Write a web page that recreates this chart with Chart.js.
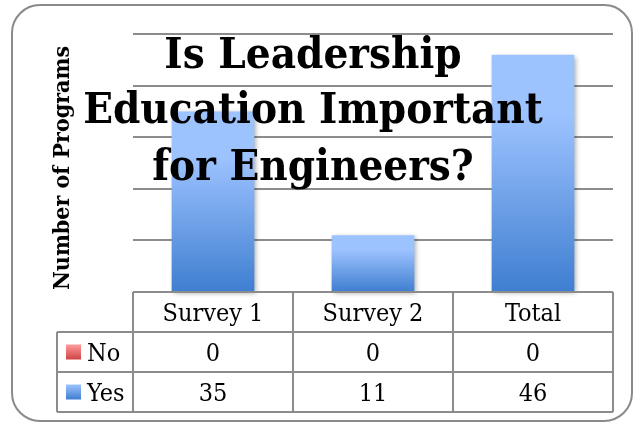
<!DOCTYPE html>
<html>
<head>
<meta charset="utf-8">
<script src="https://cdn.jsdelivr.net/npm/chart.js@4.4.1/dist/chart.umd.min.js"></script>
<style>
  html, body { margin: 0; padding: 0; background: #ffffff; }
  #wrap { width: 633px; height: 423px; }
</style>
</head>
<body>
<div id="wrap"><canvas id="c" width="633" height="423"></canvas></div>
<script>
// ---- data ----
const categories = ['Survey 1', 'Survey 2', 'Total'];
const seriesNames = ['No', 'Yes'];
const noValues = [0, 0, 0];
const yesValues = [35, 11, 46];
const yMin = 0;
const yMax = 50;
const yStep = 10;
const titleLines = ['Is Leadership', 'Education Important', 'for Engineers?'];
const yAxisTitle = 'Number of Programs';

const SERIF = '"DejaVu Serif", "Liberation Serif", serif';
const SERIF_C = '"DejaVu Serif Condensed", "DejaVu Serif", serif';
const LINE = '#8c8c8c';

function barGradient(c, top, bottom) {
  const chart = c.chart;
  const y = chart.scales && chart.scales.y;
  if (!y || c.type !== 'data') return bottom;
  const pTop = y.getPixelForValue(c.raw);
  const pBase = y.getPixelForValue(0);
  if (!isFinite(pTop) || !isFinite(pBase) || Math.abs(pBase - pTop) < 0.5) return bottom;
  const g = chart.ctx.createLinearGradient(0, pTop, 0, pBase);
  g.addColorStop(0, top);
  g.addColorStop(0.25, top);
  g.addColorStop(1, bottom);
  return g;
}

const shadowPlugin = {
  id: 'barShadow',
  beforeDatasetsDraw(chart) {
    const ctx = chart.ctx;
    ctx.save();
    ctx.shadowColor = 'rgba(0,0,0,0.35)';
    ctx.shadowBlur = 5;
    ctx.shadowOffsetX = 2;
    ctx.shadowOffsetY = 2;
  },
  afterDatasetsDraw(chart) {
    chart.ctx.restore();
  }
};

const decorPlugin = {
  id: 'decor',
  beforeDraw(chart) {
    const ctx = chart.ctx;
    ctx.save();
    ctx.fillStyle = '#ffffff';
    ctx.fillRect(0, 0, chart.width, chart.height);
    ctx.strokeStyle = '#8a8a8a';
    ctx.lineWidth = 2;
    ctx.beginPath();
    ctx.roundRect(12, 5, 620, 416, 28);
    ctx.stroke();
    ctx.restore();
  },
  afterDraw(chart) {
    const ctx = chart.ctx;
    const x = chart.scales.x;
    const area = chart.chartArea;
    const catW = (area.right - area.left) / categories.length;
    const top = area.bottom;
    const rowH = 40;
    const labelLeft = 57;

    ctx.save();
    // table lines
    ctx.strokeStyle = LINE;
    ctx.lineWidth = 2;
    ctx.beginPath();
    ctx.moveTo(area.left, top); ctx.lineTo(area.right, top);
    for (let r = 1; r <= 3; r++) {
      ctx.moveTo(labelLeft, top + r * rowH); ctx.lineTo(area.right, top + r * rowH);
    }
    ctx.moveTo(labelLeft, top + rowH); ctx.lineTo(labelLeft, top + 3 * rowH);
    for (let i = 0; i <= categories.length; i++) {
      const px = area.left + i * catW;
      ctx.moveTo(px, top); ctx.lineTo(px, top + 3 * rowH);
    }
    ctx.stroke();

    // table text
    ctx.fillStyle = '#000000';
    ctx.font = '25px ' + SERIF_C;
    ctx.textAlign = 'center';
    ctx.textBaseline = 'alphabetic';
    const capOff = 9;
    categories.forEach((cat, i) => {
      const cx = x.getPixelForValue(i);
      ctx.fillText(cat, cx, top + rowH / 2 + capOff);
      ctx.fillText(String(noValues[i]), cx, top + rowH * 1.5 + capOff);
      ctx.fillText(String(yesValues[i]), cx, top + rowH * 2.5 + capOff);
    });

    // legend keys in table
    const keys = [['#ff9c9c', '#cf4343'], ['#9dc3ff', '#3f7ed0']];
    ctx.textAlign = 'left';
    seriesNames.forEach((name, r) => {
      const cy = top + rowH * (1.5 + r);
      const g = ctx.createLinearGradient(0, cy - 7.5, 0, cy + 7.5);
      g.addColorStop(0, keys[r][0]);
      g.addColorStop(1, keys[r][1]);
      ctx.fillStyle = g;
      ctx.fillRect(66, cy - 7.5, 15, 15);
      ctx.fillStyle = '#000000';
      ctx.fillText(name, 87, cy + capOff);
    });

    // y axis title
    ctx.save();
    ctx.translate(63, (area.top + area.bottom) / 2 + 5);
    ctx.rotate(-Math.PI / 2);
    ctx.font = 'bold 23px ' + SERIF_C;
    ctx.textAlign = 'center';
    ctx.textBaseline = 'middle';
    ctx.fillText(yAxisTitle, 0, 0);
    ctx.restore();

    // chart title (overlaid)
    ctx.font = 'bold 43.5px ' + SERIF_C;
    ctx.textAlign = 'center';
    ctx.textBaseline = 'alphabetic';
    ctx.fillStyle = '#000000';
    const baselines = [68, 123, 180];
    titleLines.forEach((t, i) => ctx.fillText(t, 313, baselines[i]));
    ctx.restore();
  }
};

new Chart(document.getElementById('c'), {
  type: 'bar',
  data: {
    labels: categories,
    datasets: [
      {
        label: seriesNames[0],
        data: noValues,
        backgroundColor: (c) => barGradient(c, '#ff9c9c', '#cf4343'),
        borderWidth: 0,
        clip: false
      },
      {
        label: seriesNames[1],
        data: yesValues,
        backgroundColor: (c) => barGradient(c, '#9dc3ff', '#3f7ed0'),
        borderWidth: 0,
        clip: false
      }
    ]
  },
  options: {
    responsive: false,
    animation: false,
    devicePixelRatio: 1,
    barPercentage: 0.517,
    categoryPercentage: 1,
    layout: { padding: { left: 133, right: 20, top: 34, bottom: 131 } },
    plugins: {
      legend: { display: false },
      title: { display: false },
      tooltip: { enabled: false }
    },
    scales: {
      x: { display: false, stacked: true },
      y: {
        stacked: true,
        min: yMin,
        max: yMax,
        ticks: { display: false, stepSize: yStep },
        border: { display: false },
        grid: { color: LINE, lineWidth: 2, drawTicks: false }
      }
    }
  },
  plugins: [decorPlugin, shadowPlugin]
});
</script>
</body>
</html>
